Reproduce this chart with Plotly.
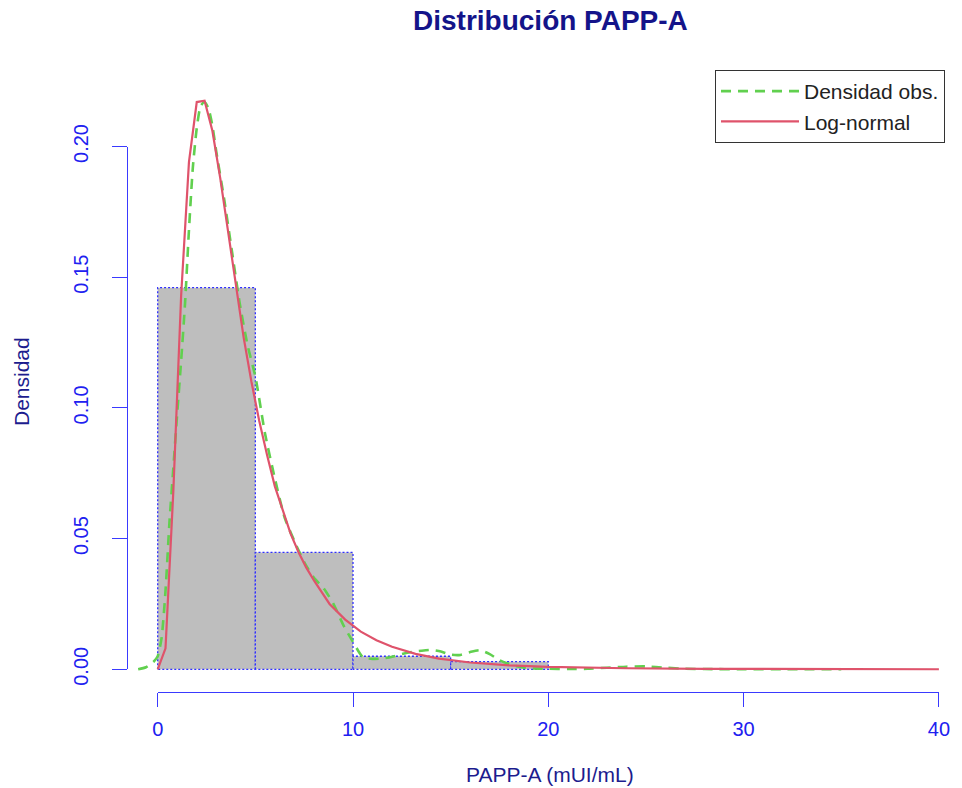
import plotly.graph_objects as go

# ---------------- data ----------------
bin_left = [0, 5, 10, 15]
bin_right = [5, 10, 15, 20]
bin_density = [0.146, 0.0447, 0.0050, 0.0029]

kde_x = [-1.0, -0.6, -0.2, 0.0, 0.2, 0.4, 0.6, 0.8, 1.0, 1.2, 1.4, 1.6, 1.8, 2.0, 2.2, 2.4, 2.6, 2.8, 3.0,
         3.4, 3.8, 4.2, 4.6,
         5.0, 5.5, 6.0, 6.5, 7.0, 7.5, 8.0, 8.5, 9.0, 9.5, 10.0, 10.5, 11.0, 11.5, 12.0, 12.5, 13.0, 13.5,
         14.0, 14.5, 15.0, 15.5, 16.0, 16.5, 17.0, 17.5, 18.0, 18.5, 19.0,
         20, 21, 22, 23, 24, 25, 26, 27, 28, 30, 32, 35]
kde_y = [0.0, 0.0008, 0.003, 0.005, 0.012, 0.03, 0.056, 0.077, 0.098, 0.118, 0.140, 0.168, 0.192, 0.207,
         0.2155, 0.217, 0.2145, 0.208, 0.198,
         0.180, 0.160, 0.140, 0.124,
         0.112, 0.090, 0.073, 0.058, 0.049, 0.041, 0.035, 0.031, 0.025, 0.017, 0.0105, 0.0047, 0.0040,
         0.0041, 0.0048, 0.0058, 0.0066, 0.0071, 0.0074, 0.0068, 0.0056, 0.0055, 0.0066, 0.0073, 0.0058,
         0.0035, 0.0020, 0.0010, 0.0004,
         0.0002, 0.0001, 0.0002, 0.0006, 0.0010, 0.0011, 0.0006, 0.0002, 0.0001, 0.0, 0.0, 0.0]

lnorm_x = [0.0, 0.4, 0.8, 1.2, 1.6, 2.0, 2.4, 2.8, 3.2, 3.6, 4.0, 4.4, 4.8, 5.2, 5.6, 6.0, 6.4, 6.8, 7.2,
           7.6, 8.0, 8.8, 9.6, 10.4, 11.2, 12.0, 13.2, 14.4, 16.0, 18.0, 20.0, 24.0, 28.0, 32.0, 36.0, 40.0]
lnorm_y = [0.0, 0.008, 0.068, 0.143, 0.194, 0.217, 0.2175, 0.206, 0.188, 0.167, 0.146, 0.127, 0.110,
           0.095, 0.082, 0.070, 0.061, 0.052, 0.045, 0.039, 0.034, 0.025, 0.019, 0.0144, 0.0111, 0.0086,
           0.0059, 0.0041, 0.0026, 0.0015, 0.0009, 0.0004, 0.0002, 0.0001, 0.00005, 0.00002]

x_ticks = [0, 10, 20, 30, 40]
y_ticks = [0.00, 0.05, 0.10, 0.15, 0.20]

title_text = "Distribución PAPP-A"
x_title = "PAPP-A (mUI/mL)"
y_title = "Densidad"
kde_name = "Densidad obs."
lnorm_name = "Log-normal"

# ---------------- geometry (pixels) ----------------
W, H = 962, 788
X0PX, X40PX = 157.7, 938.9          # pixel of x=0 and x=40
Y0PX, Y20PX = 669.3, 146.5          # pixel of y=0 and y=0.2
pxu_x = (X40PX - X0PX) / 40.0
pxu_y = (Y0PX - Y20PX) / 0.2
PL, PR, PT, PB = 130, 955, 80, 685  # main plotting area


def xv(px):
    return (px - X0PX) / pxu_x


def yv(px):
    return (Y0PX - px) / pxu_y


FONT = "Liberation Sans, Arial, sans-serif"
AXC = "#3a3aff"
LABC = "#1c1c8e"

fig = go.Figure()

for l, r, h in zip(bin_left, bin_right, bin_density):
    fig.add_trace(go.Scatter(
        x=[l, l, r, r, l], y=[0, h, h, 0, 0], mode="lines", fill="toself",
        fillcolor="#bebebe", line=dict(color="#3030ff", width=1.3, dash="2px,2px"),
        showlegend=False, hoverinfo="skip"))

fig.add_trace(go.Scatter(
    x=kde_x, y=kde_y, mode="lines", name=kde_name,
    line=dict(color="#61D04F", width=2.6, dash="10px,7px", shape="spline", smoothing=0.6)))
fig.add_trace(go.Scatter(
    x=lnorm_x, y=lnorm_y, mode="lines", name=lnorm_name,
    line=dict(color="#DF536B", width=2.2)))

# empty trace for the display-axes subplot
fig.add_trace(go.Scatter(x=[], y=[], xaxis="x2", yaxis="y2", showlegend=False, hoverinfo="skip"))

fig.update_layout(
    width=W, height=H,
    margin=dict(l=0, r=0, t=0, b=0),
    paper_bgcolor="white", plot_bgcolor="rgba(0,0,0,0)",
    font=dict(family=FONT),
    xaxis=dict(domain=[PL / W, PR / W], range=[xv(PL), xv(PR)], visible=False,
               showgrid=False, zeroline=False, automargin=False),
    yaxis=dict(domain=[(H - PB) / H, (H - PT) / H], range=[yv(PB), yv(PT)], visible=False,
               showgrid=False, zeroline=False, automargin=False),
    xaxis2=dict(domain=[X0PX / W, X40PX / W], range=[0, 40], anchor="free",
                position=(H - 692.3) / H, showline=True, linecolor=AXC, linewidth=1.3,
                ticks="outside", ticklen=14, tickwidth=1.3, tickcolor=AXC,
                tickvals=x_ticks, ticktext=[str(v) for v in x_ticks],
                tickfont=dict(size=20, color="#2020f0", family=FONT),
                ticklabelstandoff=5, showgrid=False, zeroline=False, automargin=False),
    yaxis2=dict(domain=[(H - Y0PX) / H, (H - Y20PX) / H], range=[0, 0.2], anchor="free",
                position=127 / W, side="left", showline=True, linecolor=AXC, linewidth=1.3,
                ticks="outside", ticklen=15, tickwidth=1.3, tickcolor=AXC,
                tickvals=y_ticks, ticktext=["%.2f" % v for v in y_ticks], tickangle=-90,
                tickfont=dict(size=20, color="#2020f0", family=FONT),
                ticklabelstandoff=16, showgrid=False, zeroline=False, automargin=False),
    legend=dict(x=715 / W, y=(H - 70) / H, xanchor="left", yanchor="top",
                bgcolor="white", bordercolor="#333333", borderwidth=1,
                font=dict(size=21, color="#222222", family=FONT),
                itemwidth=78, tracegroupgap=0),
    showlegend=True,
    annotations=[
        dict(text="<b>" + title_text + "</b>", x=550 / W, y=(H - 21) / H, xref="paper", yref="paper",
             xanchor="center", yanchor="middle", showarrow=False,
             font=dict(size=28, color="#14148a", family=FONT)),
        dict(text=x_title, x=550 / W, y=(H - 774) / H, xref="paper", yref="paper",
             xanchor="center", yanchor="middle", showarrow=False,
             font=dict(size=21, color=LABC, family=FONT)),
        dict(text=y_title, x=22 / W, y=(H - 382) / H, xref="paper", yref="paper", textangle=-90,
             xanchor="center", yanchor="middle", showarrow=False,
             font=dict(size=21, color=LABC, family=FONT)),
    ],
)

fig.write_html("out.html")
